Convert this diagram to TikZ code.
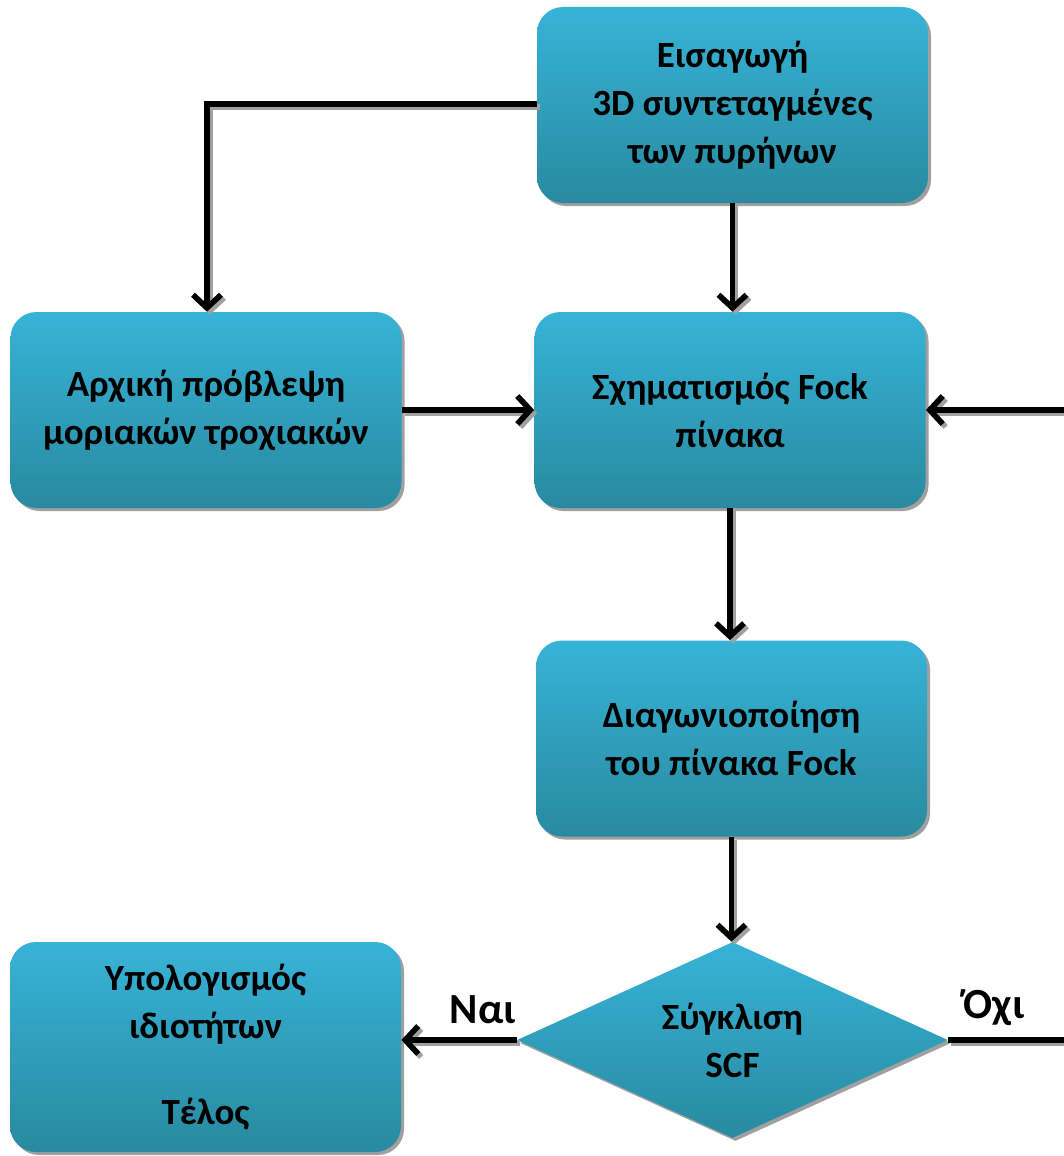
\documentclass[tikz,border=0pt]{standalone}
\usepackage{fontspec}
\setmainfont{Carlito}
\usetikzlibrary{arrows.meta,shapes.geometric,shadows}
\definecolor{boxtop}{HTML}{37B3D8}
\definecolor{boxbot}{HTML}{288A9F}
\definecolor{shadowgray}{HTML}{A0A0A0}
\tikzset{
  txt/.style={font=\fontsize{18.5}{24}\selectfont\bfseries, text=black, align=center},
  flowbox/.style={txt, rectangle, rounded corners=13pt, minimum width=195.5pt, minimum height=98pt,
    inner sep=0pt, top color=boxtop, bottom color=boxbot, draw=none,
    drop shadow={shadow xshift=1.5pt, shadow yshift=-1.5pt, fill=shadowgray, opacity=1}},
  decide/.style={txt, diamond, aspect=2.2, minimum width=215.5pt, minimum height=98pt, inner sep=0pt,
    top color=boxtop, bottom color=boxbot, draw=none,
    drop shadow={shadow xshift=1.5pt, shadow yshift=-1.5pt, fill=shadowgray, opacity=1}},
  conn/.style={line width=2.8pt, -{Straight Barb[length=6.5pt, width=14pt]}},
  lbl/.style={font=\fontsize{21.5}{24}\selectfont\bfseries, text=black}
}
\newcommand\drawconns[1]{%
  \draw[conn,#1] (b1.west |- tl) -- (tl) -- (tl |- b2.north);
  \draw[conn,#1] (b1.south) -- (b1.south |- b3.north);
  \draw[conn,#1] (b2.east) -- (b3.west);
  \draw[conn,#1] (b3.south) -- (b3.south |- b4.north);
  \draw[conn,#1] (b4.south) -- (b4.south |- d.north);
  \draw[conn,#1] (d.west) -- (d.west -| b5.east);
  \draw[conn,#1] (d.east) -- (rA) -- (rB) -- (rB -| b3.east);
}
\begin{document}
\begin{tikzpicture}[x=0.5pt, y=-0.5pt]
\useasboundingbox (0,0) rectangle (1064,1156);
\clip (0,0) rectangle (1064,1156);
\node[flowbox] (b1) at (732.5,105) {Εισαγωγή\\ 3D συντεταγμένες\\των πυρήνων};
\node[flowbox] (b2) at (206,410) {Αρχική πρόβλεψη\\μοριακών τροχιακών};
\node[flowbox] (b3) at (730,410) {Σχηματισμός Fock\\πίνακα};
\node[flowbox] (b4) at (731.5,738.5) {Διαγωνιοποίηση\\του πίνακα Fock};
\node[flowbox, minimum height=105pt] (b5) at (205.5,1047) {Υπολογισμός\\ιδιοτήτων\\[19pt]Τέλος};
\node[decide] (d) at (732.5,1040) {Σύγκλιση\\SCF};
\coordinate (tl) at (207,104);
\coordinate (rA) at (1100,1040);
\coordinate (rB) at (1100,410);
\begin{scope}[transform canvas={xshift=1.5pt, yshift=-1.5pt}]
\drawconns{shadowgray}
\end{scope}
\drawconns{black}
\node[lbl] (yes) at (483,1010) {Ναι};
\node[lbl] (no) at (994,1008) {Όχι};
\end{tikzpicture}
\end{document}
